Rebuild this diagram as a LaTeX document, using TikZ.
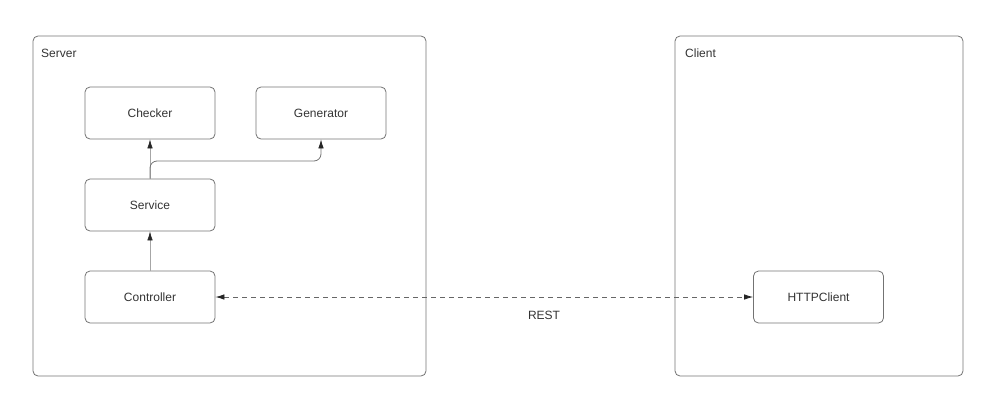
\documentclass[tikz,border=0pt]{standalone}
\usepackage{fontspec}
\setmainfont{Liberation Sans}
\usetikzlibrary{arrows.meta}
\begin{document}
\begin{tikzpicture}[x=1pt,y=-1pt,
  container/.style={draw=black!55, line width=0.8pt, rounded corners=5pt},
  comp/.style={draw=black!55, line width=0.8pt, rounded corners=5pt, minimum width=130pt, minimum height=52pt, inner sep=0pt, font=\fontsize{12}{14}\selectfont, text=black!80},
  lbl/.style={font=\fontsize{12}{14}\selectfont, text=black!80, inner sep=0pt},
  conn/.style={draw=black!35, line width=0.7pt, -{Latex[length=9pt,width=5.5pt,black!85]}},
  branch/.style={draw=black!55, line width=0.8pt, rounded corners=7pt, -{Latex[length=9pt,width=5.5pt,black!85]}},
  rest/.style={draw=black!60, line width=0.8pt, dash pattern=on 5pt off 4pt, {Latex[length=9pt,width=5.5pt,black!85]}-{Latex[length=9pt,width=5.5pt,black!85]}}]
\useasboundingbox (0,0) rectangle (1000,412);
\draw[container] (33,36) rectangle (426,376);
\draw[container] (675,36) rectangle (963,376);
\node[lbl, anchor=west] (server) at (41,53) {Server};
\node[lbl, anchor=west] (client) at (685,53) {Client};
\node[comp] (checker) at (150,113) {Checker};
\node[comp] (generator) at (321,113) {Generator};
\node[comp] (service) at (150,205) {Service};
\node[comp] (controller) at (150,297) {Controller};
\node[comp] (http) at (818.5,297) {HTTPClient};
\coordinate (br) at (150,161);
\draw[conn] (service.north) -- (checker.south);
\draw[branch] (service.north) -- (br) -- (br -| generator.south) -- (generator.south);
\draw[conn] (controller.north) -- (service.south);
\draw[rest] (controller.east) -- (http.west);
\node[lbl] (restlbl) at (544,315) {REST};
\end{tikzpicture}
\end{document}
